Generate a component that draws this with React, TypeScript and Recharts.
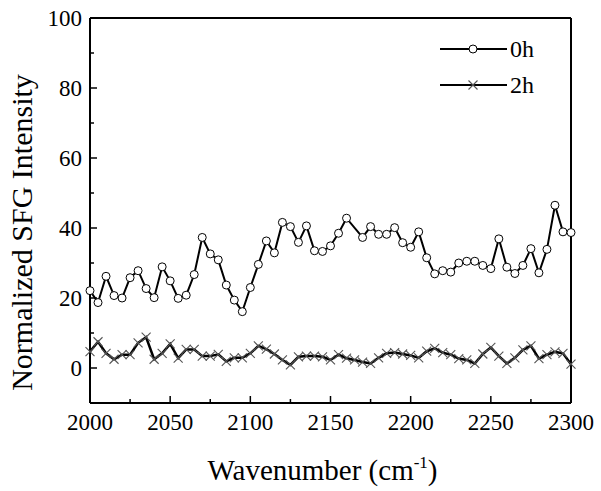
import React from 'react';
import { LineChart, Line, XAxis, YAxis, ReferenceLine, Legend } from 'recharts';

const wavenumbers = [
  2000, 2005, 2010, 2015, 2020, 2025, 2030, 2035, 2040, 2045,
  2050, 2055, 2060, 2065, 2070, 2075, 2080, 2085, 2090, 2095,
  2100, 2105, 2110, 2115, 2120, 2125, 2130, 2135, 2140, 2145,
  2150, 2155, 2160, 2165, 2170, 2175, 2180, 2185, 2190, 2195,
  2200, 2205, 2210, 2215, 2220, 2225, 2230, 2235, 2240, 2245,
  2250, 2255, 2260, 2265, 2270, 2275, 2280, 2285, 2290, 2295,
  2300,
];

const series0h = [
  22.1, 18.7, 26.2, 20.7, 20.0, 25.8, 27.8, 22.7, 20.1, 28.9,
  24.9, 19.9, 20.8, 26.7, 37.3, 32.6, 30.9, 23.7, 19.4, 16.1,
  23.0, 29.6, 36.3, 32.9, 41.6, 40.4, 35.9, 40.6, 33.5, 33.3,
  34.9, 38.5, 42.8, null, 37.3, 40.4, 38.2, 38.2, 40.1, 35.8,
  34.5, 38.9, 31.5, 26.9, 27.8, 27.4, 30.0, 30.5, 30.5, 29.3,
  28.4, 36.9, 28.8, 27.0, 29.3, 34.1, 27.2, 33.9, 46.5, 38.9,
  38.7,
];

const series2h = [
  4.7, 7.5, 4.2, 2.5, 3.8, 3.8, 7.2, 8.8, 2.5, 4.2,
  6.9, 2.8, 5.3, 5.3, 3.4, 3.4, 3.9, 1.9, 2.9, 2.9,
  4.2, 6.3, 5.4, 4.0, 2.3, 0.9, 3.2, 3.4, 3.4, 3.2,
  2.3, 3.8, 2.8, 2.3, 1.7, 1.3, 2.9, 4.2, 4.4, 4.0,
  3.6, 2.9, 4.8, 5.6, 4.4, 3.8, 2.7, 2.3, 1.3, 4.0,
  5.9, 3.4, 1.3, 2.9, 5.2, 6.3, 2.7, 3.8, 4.6, 4.2,
  1.1,
];

const xTicks = [2000, 2025, 2050, 2075, 2100, 2125, 2150, 2175, 2200, 2225, 2250, 2275, 2300];
const yTicks = [0, 10, 20, 30, 40, 50, 60, 70, 80, 90, 100];
const xLabelStep = 50;
const yLabelStep = 20;

const seriesNames = ['0h', '2h'];

const data = wavenumbers.map((w, i) => ({ x: w, a: series0h[i], b: series2h[i] }));

const FONT = '"Times New Roman", "Liberation Serif", Times, serif';

const XTick = (props: any) => {
  const { x, y, payload } = props;
  const v = payload.value;
  const major = v % xLabelStep === 0;
  const len = major ? 7 : 4;
  return (
    <g>
      {v !== 2000 && v !== 2300 && (
        <line x1={x} y1={y} x2={x} y2={y - len} stroke="#000" strokeWidth={1.5} />
      )}
      {major && (
        <text x={x} y={y + 27} textAnchor="middle" fontFamily={FONT} fontSize={23} fill="#000">
          <tspan>{String(v)}</tspan>
        </text>
      )}
    </g>
  );
};

const YTick = (props: any) => {
  const { x, y, payload } = props;
  const v = payload.value;
  const major = v % yLabelStep === 0;
  const len = major ? 7 : 4;
  return (
    <g>
      {v !== 100 && (
        <line x1={x} y1={y} x2={x + len} y2={y} stroke="#000" strokeWidth={1.5} />
      )}
      {major && (
        <text x={x - 8} y={y + 8} textAnchor="end" fontFamily={FONT} fontSize={23} fill="#000">
          <tspan>{String(v)}</tspan>
        </text>
      )}
    </g>
  );
};

const XTitle = (props: any) => {
  const vb = props.viewBox || { x: 0, y: 0, width: 0, height: 0 };
  const cx = vb.x + vb.width / 2 - 8;
  return (
    <text x={cx} y={vb.y + 77} textAnchor="middle" fontFamily={FONT} fontSize={29} fill="#000">
      Wavenumber (cm
      <tspan fontSize={17} dy={-12}>-1</tspan>
      <tspan dy={12}>)</tspan>
    </text>
  );
};

const YTitle = (props: any) => {
  const vb = props.viewBox || { x: 0, y: 0, width: 0, height: 0 };
  const cy = vb.y + vb.height / 2 + 22;
  const tx = 32;
  return (
    <text
      x={tx}
      y={cy}
      transform={`rotate(-90, ${tx}, ${cy})`}
      textAnchor="middle"
      fontFamily={FONT}
      fontSize={30}
      fill="#000"
    >
      <tspan>Normalized SFG Intensity</tspan>
    </text>
  );
};

const CrossDot = (props: any) => {
  const { cx, cy, index } = props;
  if (cx == null || cy == null) return <g key={`c${index}`} />;
  const s = 4.5;
  return (
    <path
      key={`c${index}`}
      d={`M${cx - s},${cy - s}L${cx + s},${cy + s}M${cx - s},${cy + s}L${cx + s},${cy - s}`}
      stroke="#555"
      strokeWidth={1.1}
      fill="none"
    />
  );
};

const LegendContent = () => (
  <svg width={130} height={70} style={{ display: 'block' }}>
    <line x1={0} y1={19} x2={67} y2={19} stroke="#000" strokeWidth={2} />
    <circle cx={33} cy={19} r={4} fill="#fff" stroke="#000" strokeWidth={1} />
    <text x={70} y={27} fontFamily={FONT} fontSize={24} fill="#000"><tspan>{seriesNames[0]}</tspan></text>
    <line x1={0} y1={55} x2={67} y2={55} stroke="#000" strokeWidth={2} />
    <path d="M28.5,50.5L37.5,59.5M28.5,59.5L37.5,50.5" stroke="#555" strokeWidth={1.1} />
    <text x={70} y={63} fontFamily={FONT} fontSize={24} fill="#000"><tspan>{seriesNames[1]}</tspan></text>
  </svg>
);

export default function App() {
  return (
    <div style={{ position: 'absolute', left: 0, top: 0, background: '#fff' }}>
      <LineChart
        width={601}
        height={491}
        data={data}
        margin={{ top: 18, right: 30, left: 0, bottom: 0 }}
      >
        <XAxis
          dataKey="x"
          type="number"
          domain={[2000, 2300]}
          ticks={xTicks}
          interval={0}
          height={88}
          tickSize={0}
          tickMargin={0}
          tickLine={false}
          axisLine={{ stroke: '#000', strokeWidth: 2 }}
          tick={<XTick />}
          label={<XTitle />}
        />
        <YAxis
          type="number"
          domain={[-10, 100]}
          ticks={yTicks}
          interval={0}
          width={90}
          tickSize={0}
          tickMargin={0}
          tickLine={false}
          axisLine={{ stroke: '#000', strokeWidth: 2 }}
          tick={<YTick />}
          label={<YTitle />}
        />
        <ReferenceLine y={100} stroke="#000" strokeWidth={2} />
        <ReferenceLine x={2300} stroke="#000" strokeWidth={2} />
        <Legend
          layout="vertical"
          align="center"
          verticalAlign="middle"
          content={<LegendContent />}
          wrapperStyle={{ position: 'absolute', left: 440, top: 30, width: 130, height: 70 }}
        />
        <Line
          type="linear"
          dataKey="a"
          name={seriesNames[0]}
          stroke="#000"
          strokeWidth={2}
          connectNulls
          isAnimationActive={false}
          dot={{ r: 4, fill: '#fff', stroke: '#000', strokeWidth: 1 }}
        />
        <Line
          type="linear"
          dataKey="b"
          name={seriesNames[1]}
          stroke="#000"
          strokeWidth={2.5}
          isAnimationActive={false}
          dot={<CrossDot />}
        />
      </LineChart>
    </div>
  );
}
